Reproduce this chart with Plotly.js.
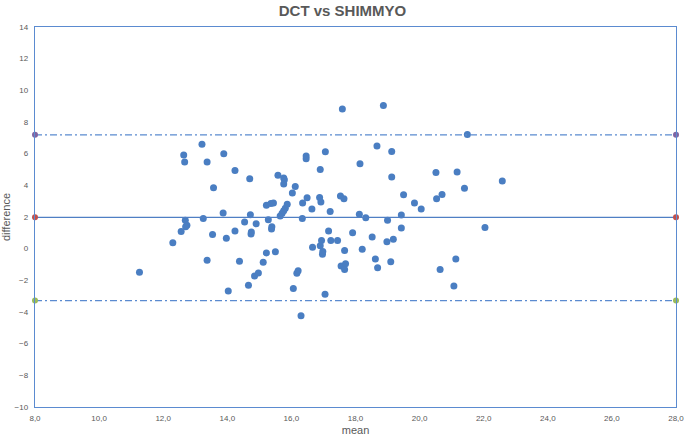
<!DOCTYPE html>
<html>
<head>
<meta charset="utf-8">
<script src="https://cdn.plot.ly/plotly-3.0.1.min.js"></script>
<style>html,body{margin:0;padding:0;background:#fff;}#chart{width:685px;height:438px;}</style>
</head>
<body>
<div id="chart"></div>
<script>
// Bland-Altman data: mean of the two methods (x) and their difference (y)
const meanValues = [
  11.26, 12.30, 12.56, 12.64, 12.67, 12.69, 12.74, 12.70, 13.21, 13.37,
  13.25, 13.37, 13.54, 13.57, 13.89, 13.87, 13.97, 14.03, 14.24, 14.24,
  14.38, 14.54, 14.66, 14.70, 14.72, 14.75, 14.74, 14.85, 14.97, 14.90,
  15.12, 15.22, 15.22, 15.28, 15.36, 15.44, 15.39, 15.38, 15.50, 15.58,
  15.76, 15.78, 15.76, 15.65, 15.71, 15.76, 15.81, 15.87, 16.03, 16.12,
  16.06, 16.17, 16.21, 16.30, 16.34, 16.35, 16.49, 16.46, 16.46, 16.64,
  16.66, 16.88, 16.92, 16.90, 16.94, 16.90, 16.98, 16.97, 17.05, 17.06,
  17.16, 17.21, 17.23, 17.44, 17.53, 17.64, 17.55, 17.69, 17.66, 17.59,
  17.66, 17.91, 18.12, 18.14, 18.21, 18.32, 18.52, 18.62, 18.69, 18.67,
  18.87, 18.98, 19.00, 19.10, 19.13, 19.13, 19.18, 19.43, 19.43, 19.50,
  19.84, 20.05, 20.51, 20.53, 20.70, 20.64, 21.07, 21.13, 21.17, 21.40,
  21.49, 22.04, 22.58
];
const differenceValues = [
  -1.49, 0.38, 1.08, 5.91, 5.47, 1.80, 1.48, 1.38, 6.60, 5.47,
  1.90, -0.73, 0.89, 3.84, 5.99, 2.26, 0.66, -2.67, 4.94, 1.12,
  -0.79, 1.69, -2.31, 4.41, 2.15, 1.06, 0.92, -1.72, -1.53, 1.57,
  -0.85, -0.27, 2.75, 1.82, 2.85, 2.89, 1.38, 1.25, -0.20, 4.64,
  4.46, 4.36, 4.08, 2.07, 2.24, 2.39, 2.56, 2.81, 3.51, 3.92,
  -2.52, -1.55, -1.40, -4.23, 1.90, 2.89, 3.21, 5.86, 5.68, 2.50,
  0.09, 3.23, 2.94, 5.00, 0.51, 0.18, -0.18, -0.35, -2.88, 6.12,
  1.12, 2.34, 0.51, 0.51, 3.32, 3.15, -1.09, -0.96, -1.32, 8.82,
  -0.12, 1.00, 2.18, 5.36, -0.03, 1.96, 0.74, -0.66, -1.20, 6.48,
  9.04, 0.43, 1.80, -0.82, 6.14, 4.52, 0.60, 2.12, 1.31, 3.40,
  2.89, 2.50, 4.81, 3.15, 3.42, -1.32, -2.35, -0.66, 4.85, 3.82,
  7.21, 1.33, 4.27
];
const lineX = [8, 28];
const biasValue = 1.98;
const upperLimit = 7.19;
const lowerLimit = -3.28;
const xTickValues = [8, 10, 12, 14, 16, 18, 20, 22, 24, 26, 28];
const yTickValues = [14, 12, 10, 8, 6, 4, 2, 0, -2, -4, -6, -8, -10];

const grey = '#595959';
const traces = [
  {
    x: meanValues, y: differenceValues, type: 'scatter', mode: 'markers',
    marker: {color: '#4A7EC2', size: 7}, showlegend: false, hoverinfo: 'x+y'
  },
  {
    x: lineX, y: [upperLimit, upperLimit], type: 'scatter', mode: 'lines+markers',
    line: {color: '#5B8BD0', width: 1.25, dash: '7px,3px,2px,3px'},
    marker: {color: '#8064A2', size: 6}, showlegend: false, cliponaxis: false
  },
  {
    x: lineX, y: [lowerLimit, lowerLimit], type: 'scatter', mode: 'lines+markers',
    line: {color: '#5B8BD0', width: 1.25, dash: '7px,3px,2px,3px'},
    marker: {color: '#9BBB59', size: 6}, showlegend: false, cliponaxis: false
  },
  {
    x: lineX, y: [biasValue, biasValue], type: 'scatter', mode: 'lines+markers',
    line: {color: '#4F7FC4', width: 1.25},
    marker: {color: '#C0504D', size: 6}, showlegend: false, cliponaxis: false
  }
];

const layout = {
  width: 685, height: 438,
  margin: {l: 35, r: 9, t: 27, b: 31},
  paper_bgcolor: '#ffffff', plot_bgcolor: '#ffffff',
  separators: ',.',
  font: {family: '"Liberation Sans", Arial, sans-serif', color: grey},
  title: {
    text: '<b>DCT vs SHIMMYO</b>',
    font: {size: 15, color: grey, family: '"Liberation Sans", Arial, sans-serif'},
    x: 0.5, xanchor: 'center', y: 0.975, yanchor: 'middle', yref: 'container'
  },
  xaxis: {
    range: [8, 28], tickvals: xTickValues, tickformat: '.1f',
    showgrid: false, zeroline: false,
    showline: true, mirror: true, linecolor: '#5B8BD0', linewidth: 1.25,
    ticks: '', ticklabelstandoff: 3, tickfont: {size: 8, color: grey},
    title: {text: 'mean', font: {size: 11, color: grey}, standoff: 4}
  },
  yaxis: {
    range: [-10, 14], tickvals: yTickValues,
    showgrid: false, zeroline: false,
    showline: true, mirror: true, linecolor: '#5B8BD0', linewidth: 1.25,
    ticks: '', ticklabelstandoff: 4, tickfont: {size: 8, color: grey},
    title: {text: 'difference', font: {size: 11, color: grey}, standoff: 2}
  }
};

Plotly.newPlot('chart', traces, layout, {displayModeBar: false, staticPlot: true});
</script>
</body>
</html>
